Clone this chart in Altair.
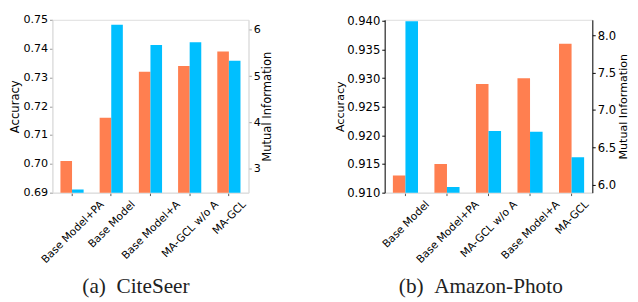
import altair as alt
import pandas as pd

# ---- data ----
cite_models = ["Base Model+PA", "Base Model", "Base Model+A", "MA-GCL w/o A", "MA-GCL"]
cite_acc = [0.701, 0.716, 0.732, 0.734, 0.739]
cite_mi = [2.56, 6.11, 5.67, 5.73, 5.33]

photo_models = ["Base Model", "Base Model+PA", "MA-GCL w/o A", "Base Model+A", "MA-GCL"]
photo_acc = [0.913, 0.915, 0.929, 0.930, 0.936]
photo_mi = [8.19, 5.97, 6.72, 6.71, 6.37]

cite_acc_ticks = [0.69, 0.70, 0.71, 0.72, 0.73, 0.74, 0.75]
cite_mi_ticks = [3, 4, 5, 6]
photo_acc_ticks = [0.910, 0.915, 0.920, 0.925, 0.930, 0.935, 0.940]
photo_mi_ticks = [6.0, 6.5, 7.0, 7.5, 8.0]

ORANGE = "#FF7F50"
BLUE = "#00BFFF"
XFONT = 11

# approximate DejaVu Sans advance widths (em) to centre rotated labels under ticks
W = {'B': .686, 'a': .613, 's': .521, 'e': .615, ' ': .318, 'M': .863, 'o': .612,
     'd': .635, 'l': .278, '+': .838, 'P': .603, 'A': .684, '-': .361, 'G': .775,
     'C': .698, 'L': .557, 'w': .818, '/': .337}


def label_offset(s):
    L = sum(W.get(c, 0.6) for c in s) * XFONT
    return round(0.354 * (L - 10), 1)


def panel(models, acc, mi, acc_dom, mi_dom, acc_ticks, mi_ticks, acc_fmt, mi_fmt,
          width, height, barw, caption, cap_dx, ycolor, ytick, yfont, tfont):
    df = pd.DataFrame({"model": models, "acc": acc, "mi": mi})
    cond = [{"test": f"datum.value === '{m}'", "value": label_offset(m)} for m in models]
    xaxis = alt.Axis(title=None, labelAngle=315, labelAlign="right", labelBaseline="top",
                     labelFontSize=XFONT, labelFont="DejaVu Sans", labelColor="#000000",
                     labelOffset={"condition": cond, "value": 0}, labelPadding=3,
                     tickSize=3, tickColor="#555555", domainColor="#dddddd")
    x = alt.X("model:N", sort=models,
              scale=alt.Scale(paddingInner=0, paddingOuter=0), axis=xaxis)
    left = alt.Chart(df).mark_bar(width=barw, xOffset=-barw / 2, clip=True, color=ORANGE).encode(
        x=x,
        y=alt.Y("acc:Q", scale=alt.Scale(domain=acc_dom, nice=False, zero=False),
                axis=alt.Axis(orient="left", title="Accuracy", values=acc_ticks, format=acc_fmt,
                              tickSize=3, labelPadding=2, titlePadding=1, grid=False,
                              domainColor=ycolor, tickColor=ytick, labelFontSize=yfont,
                              labelColor="#000000", titleFontSize=tfont, titleFontWeight="normal",
                              titleColor="#000000", labelFont="DejaVu Sans", titleFont="DejaVu Sans")),
    )
    right = alt.Chart(df).mark_bar(width=barw, xOffset=barw / 2, clip=True, color=BLUE).encode(
        x=x,
        y=alt.Y("mi:Q", scale=alt.Scale(domain=mi_dom, nice=False, zero=False),
                axis=alt.Axis(orient="right", title="Mutual Information", values=mi_ticks,
                              format=mi_fmt, tickSize=3, labelPadding=2, titlePadding=2, grid=False,
                              titleAngle=270, titleBaseline="top",
                              domainColor=ycolor, tickColor=ytick, labelFontSize=yfont,
                              labelColor="#000000", titleFontSize=tfont, titleFontWeight="normal",
                              titleColor="#000000", labelFont="DejaVu Sans", titleFont="DejaVu Sans")),
    )
    return alt.layer(left, right).resolve_scale(y="independent").properties(
        width=width, height=height,
        title=alt.TitleParams(caption, orient="bottom", font="Liberation Serif", fontSize=22,
                              fontWeight="normal", color="#222222", offset=12, anchor="middle",
                              frame="group", dx=cap_dx),
    )


p1 = panel(cite_models, cite_acc, cite_mi, [0.69, 0.75], [2.49, 6.215],
           cite_acc_ticks, cite_mi_ticks, ".2f", "d", 203, 179, 12,
           "(a)\u00a0\u00a0CiteSeer", -15, "#dddddd", "#999999", 11.5, 12)
p2 = panel(photo_models, photo_acc, photo_mi, [0.910, 0.9402], [5.894, 8.209],
           photo_acc_ticks, photo_mi_ticks, ".3f", ".1f", 215, 179, 13,
           "(b)\u00a0\u00a0Amazon-Photo", -8, "#000000", "#000000", 12, 11.5)

chart = alt.hconcat(p1, p2, spacing=63).properties(padding=0).configure_view(
    stroke="#dddddd", strokeWidth=1
)

chart.save("out.html", embed_options={"renderer": "svg", "actions": False})
